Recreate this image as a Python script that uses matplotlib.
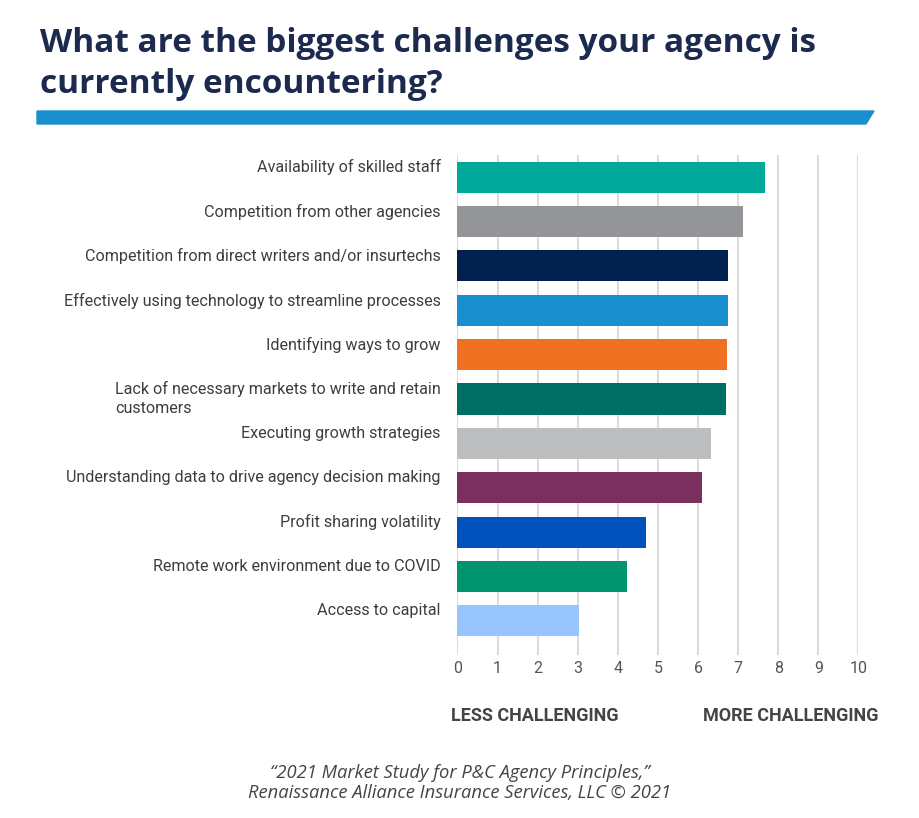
"""Biggest agency challenges, horizontal bar chart"""

import matplotlib.pyplot as plt
from matplotlib.patches import Polygon

categories = [
    'Availability of skilled staff',
    'Competition from other agencies',
    'Competition from direct writers and/or insurtechs',
    'Effectively using technology to streamline processes',
    'Identifying ways to grow',
    'Lack of necessary markets to write and retain\ncustomers',
    'Executing growth strategies',
    'Understanding data to drive agency decision making',
    'Profit sharing volatility',
    'Remote work environment due to COVID',
    'Access to capital',
]
scores = [7.67, 7.12, 6.75, 6.75, 6.71, 6.70, 6.32, 6.10, 4.69, 4.22, 3.04]
colors = ['#00a99a', '#939598', '#00214e', '#1a8fd0', '#f07022', '#006f63',
          '#bcbec0', '#7a2f5e', '#0050be', '#00946f', '#99c5ff']
ticks = list(range(11))

fig = plt.figure(figsize=(9.2, 8.18), dpi=100)
ax = fig.add_axes([457.5 / 920, 1 - 655 / 818, 401 / 920, 500 / 818])

y = list(range(len(categories)))
ax.barh(y, scores, height=0.70, color=colors, zorder=3)
ax.set_xlim(0, 10)
ax.set_ylim(10.77, -0.5)
ax.set_xticks(ticks)
ax.set_xticklabels([str(t) for t in ticks], fontsize=11.5, color='#555555',
                   family='Roboto')
ax.set_yticks([])
ax.tick_params(axis='x', length=0, pad=4)
ax.grid(axis='x', color='#dcdcdc', linewidth=1.5, zorder=0)
for s in ax.spines.values():
    s.set_visible(False)

for i, lab in enumerate(categories):
    ax.text(-0.42, i - 0.40, lab, ha='right', va='top', ma='left',
            fontsize=11.6, color='#3d3d3d', family='Roboto', clip_on=False,
            linespacing=1.35)

# title
fig.text(40 / 920, 1 - 64 / 818, 'What are the biggest challenges your agency is\ncurrently encountering?',
         ha='left', va='center', fontsize=24, fontweight='bold', color='#1b2a4e',
         family='Open Sans', linespacing=1.3)

# blue band under the title
band = Polygon([(37 / 920, 1 - 111 / 818), (874 / 920, 1 - 111 / 818),
                (866 / 920, 1 - 124 / 818), (37 / 920, 1 - 124 / 818)],
               closed=True, transform=fig.transFigure, color='#1a8fd0')
fig.patches.append(band)

fig.text(535 / 920, 1 - 716 / 818, 'LESS CHALLENGING', ha='center', va='center',
         fontsize=13, fontweight='bold', color='#444444', family='Roboto')
fig.text(791 / 920, 1 - 716 / 818, 'MORE CHALLENGING', ha='center', va='center',
         fontsize=13, fontweight='bold', color='#444444', family='Roboto')

fig.text(460 / 920, 1 - 783 / 818,
         '\u201c2021 Market Study for P&C Agency Principles,\u201d\n'
         'Renaissance Alliance Insurance Services, LLC \u00a9 2021',
         ha='center', va='center', fontsize=13.2, style='italic', color='#444444',
         family='Open Sans', linespacing=1.2)

fig.savefig('out.png', dpi=100)
